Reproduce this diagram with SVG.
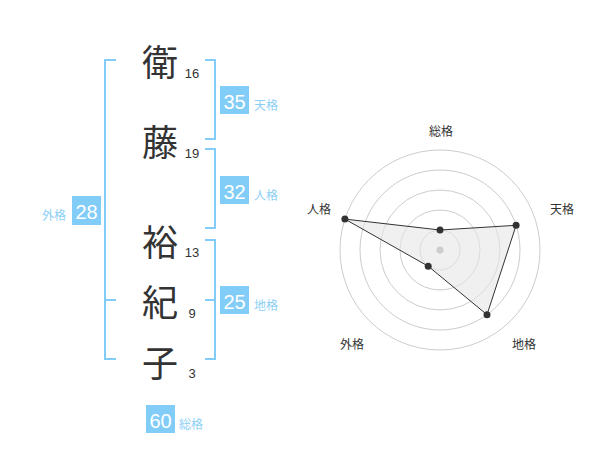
<svg xmlns="http://www.w3.org/2000/svg" width="600" height="470" viewBox="0 0 600 470">
<style>
.ch{font-family:"Noto Sans CJK JP","Noto Sans CJK SC",sans-serif;font-size:36px;fill:#333;text-anchor:middle;dominant-baseline:central}
.num{font-family:"Liberation Sans",Arial,sans-serif;font-size:13px;fill:#333;text-anchor:middle}
.br{fill:none;stroke:#82cdf8;stroke-width:2}
.box{fill:#82cdf8}
.bn{font-family:"Liberation Sans",Arial,sans-serif;font-size:20px;fill:#fff;text-anchor:middle}
.lb{font-family:"Noto Sans CJK JP","Noto Sans CJK SC",sans-serif;font-size:12px;fill:#8ccff5}
.rl{font-family:"Noto Sans CJK JP","Noto Sans CJK SC",sans-serif;font-size:12px;fill:#333;text-anchor:middle;dominant-baseline:central}
.ring{fill:none;stroke:#cccccc;stroke-width:1}
.pt{fill:#333}
</style>
<rect width="600" height="470" fill="#fff"/>
<g id="connectors">
<path class="br" d="M116,60 H105 V359 H116 M105,300 H116"/>
<path class="br" d="M205,60 H215 V139 H205"/>
<path class="br" d="M205,149 H215 V228 H205"/>
<path class="br" d="M205,240 H215 V359 H205 M205,300 H215"/>
</g>
<g id="name">
<text class="ch" x="160" y="60">衛</text>
<text class="num" x="192" y="78">16</text>
<text class="ch" x="160" y="140">藤</text>
<text class="num" x="192" y="158">19</text>
<text class="ch" x="160" y="240">裕</text>
<text class="num" x="192" y="257">13</text>
<text class="ch" x="160" y="300">紀</text>
<text class="num" x="192" y="318">9</text>
<text class="ch" x="160" y="361">子</text>
<text class="num" x="192" y="378">3</text>
</g>
<g id="tenkaku">
<rect class="box" x="220" y="86" width="29" height="28"/>
<text class="bn" x="234.5" y="109">35</text>
<text class="lb" x="254" y="110">天格</text>
</g>
<g id="jinkaku">
<rect class="box" x="220" y="176" width="29" height="28"/>
<text class="bn" x="234.5" y="199">32</text>
<text class="lb" x="254" y="200">人格</text>
</g>
<g id="chikaku">
<rect class="box" x="220" y="286" width="29" height="28"/>
<text class="bn" x="234.5" y="309">25</text>
<text class="lb" x="254" y="310">地格</text>
</g>
<g id="gaikaku">
<rect class="box" x="72" y="196" width="29" height="29"/>
<text class="bn" x="86.5" y="219">28</text>
<text class="lb" x="42" y="220">外格</text>
</g>
<g id="soukaku">
<rect class="box" x="146" y="405" width="29" height="28"/>
<text class="bn" x="160.5" y="428">60</text>
<text class="lb" x="179" y="429">総格</text>
</g>
<g id="radar">
<circle class="ring" cx="440" cy="250" r="20"/>
<circle class="ring" cx="440" cy="250" r="40"/>
<circle class="ring" cx="440" cy="250" r="60"/>
<circle class="ring" cx="440" cy="250" r="80"/>
<circle class="ring" cx="440" cy="250" r="100"/>
<polygon points="440,230 516.1,225.3 487,314.7 428.2,266.2 344.9,219.1" fill="#e6e6e6" fill-opacity="0.6" stroke="#333" stroke-width="1"/>
<circle cx="440" cy="250" r="3.5" fill="#cccccc"/>
<circle class="pt" cx="440" cy="230" r="3.5"/>
<circle class="pt" cx="516.1" cy="225.3" r="3.5"/>
<circle class="pt" cx="487" cy="314.7" r="3.5"/>
<circle class="pt" cx="428.2" cy="266.2" r="3.5"/>
<circle class="pt" cx="344.9" cy="219.1" r="3.5"/>
<text class="rl" x="441" y="130">総格</text>
<text class="rl" x="562" y="208">天格</text>
<text class="rl" x="319" y="208">人格</text>
<text class="rl" x="352" y="343">外格</text>
<text class="rl" x="524" y="343">地格</text>
</g>
</svg>
